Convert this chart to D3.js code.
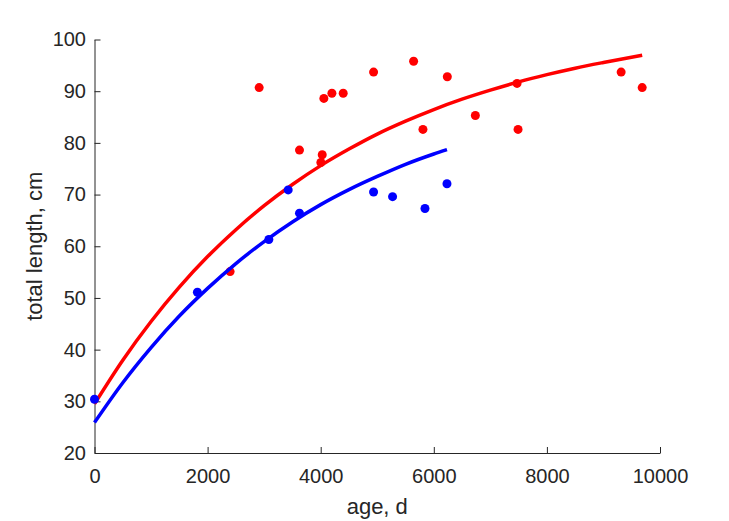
<!DOCTYPE html>
<html>
<head>
<meta charset="utf-8">
<script src="https://cdn.jsdelivr.net/npm/d3@7"></script>
<style>
  html, body { margin: 0; padding: 0; background: #fff; }
  svg { display: block; }
  text { font-family: "Liberation Sans", Arial, Helvetica, sans-serif; }
</style>
</head>
<body>
<svg id="chart" width="729" height="521"></svg>
<script>
// ---- data ----
const xTicks = [0, 2000, 4000, 6000, 8000, 10000];
const yTicks = [20, 30, 40, 50, 60, 70, 80, 90, 100];

// red group: observed ages (d) and total lengths (cm)
const redAge    = [2398, 2912, 3625, 4003, 4027, 4056, 4198, 4398, 4935, 5643, 5808, 6239, 6735, 7472, 7490, 9313, 9685];
const redLength = [55.1, 90.7, 78.6, 76.2, 77.7, 88.6, 89.6, 89.6, 93.7, 95.8, 82.6, 92.8, 85.3, 91.5, 82.6, 93.7, 90.7];

// blue group
const blueAge    = [0, 1820, 3083, 3425, 3625, 4935, 5271, 5844, 6233];
const blueLength = [30.4, 51.1, 61.3, 70.9, 66.4, 70.5, 69.6, 67.3, 72.1];

// fitted growth curves
const redCurveAge    = [0, 500, 1000, 1500, 2000, 2500, 3000, 3500, 4000, 4500, 5000, 5500, 6000, 6500, 7000, 7500, 8000, 8500, 9000, 9685];
const redCurveLength = [29.5, 37.96, 45.45, 52.1, 58.0, 63.2, 67.85, 71.95, 75.6, 78.8, 81.7, 84.2, 86.45, 88.45, 90.2, 91.8, 93.2, 94.45, 95.55, 96.95];
const blueCurveAge    = [0, 500, 1000, 1500, 2000, 2500, 3000, 3500, 4000, 4500, 5000, 5500, 6000, 6233];
const blueCurveLength = [25.9, 33.6, 40.4, 46.5, 51.85, 56.65, 60.9, 64.7, 68.05, 70.95, 73.5, 75.85, 77.85, 78.7];

const xLabel = "age, d";
const yLabel = "total length, cm";

// ---- layout ----
const padL = 94.5, padR = 660, padT = 39.5, padB = 453;
const axisColor = "#262626";

const svg = d3.select("#chart");
const x = d3.scaleLinear().domain([0, 10000]).range([padL, padR]);
const y = d3.scaleLinear().domain([20, 100]).range([padB, padT]);

// axes
const xAxis = d3.axisBottom(x).tickValues(xTicks).tickFormat(d3.format("d"))
  .tickSizeInner(-6).tickSizeOuter(0).tickPadding(16);
const yAxis = d3.axisLeft(y).tickValues(yTicks).tickFormat(d3.format("d"))
  .tickSizeInner(-6).tickSizeOuter(0).tickPadding(8.5);

const gx = svg.append("g").attr("transform", `translate(0,${padB})`).call(xAxis);
const gy = svg.append("g").attr("transform", `translate(${padL},0)`).call(yAxis);
[gx, gy].forEach(g => {
  g.select(".domain").attr("stroke", axisColor).attr("stroke-width", 1);
  g.selectAll(".tick line").attr("stroke", axisColor).attr("stroke-width", 1);
  g.selectAll(".tick text").attr("fill", axisColor)
    .style("font-size", "20px")
    .style("font-family", '"Liberation Sans", Arial, Helvetica, sans-serif');
});

// axis labels
svg.append("text")
  .attr("x", (padL + padR) / 2).attr("y", 514)
  .attr("text-anchor", "middle").attr("fill", axisColor)
  .style("font-size", "22px").text(xLabel);
svg.append("text")
  .attr("transform", `translate(42,${(padT + padB) / 2}) rotate(-90)`)
  .attr("text-anchor", "middle").attr("fill", axisColor)
  .style("font-size", "22px").text(yLabel);

const line = d3.line().x(d => x(d[0])).y(d => y(d[1])).curve(d3.curveMonotoneX);
const zip = (a, b) => a.map((v, i) => [v, b[i]]);

// red group
svg.append("g").selectAll("circle").data(zip(redAge, redLength)).join("circle")
  .attr("cx", d => x(d[0])).attr("cy", d => y(d[1])).attr("r", 4.5).attr("fill", "#ff0000");
svg.append("path").datum(zip(redCurveAge, redCurveLength))
  .attr("d", line).attr("fill", "none").attr("stroke", "#ff0000").attr("stroke-width", 3.5);

// blue group
svg.append("g").selectAll("circle").data(zip(blueAge, blueLength)).join("circle")
  .attr("cx", d => x(d[0])).attr("cy", d => y(d[1])).attr("r", 4.5).attr("fill", "#0000ff");
svg.append("path").datum(zip(blueCurveAge, blueCurveLength))
  .attr("d", line).attr("fill", "none").attr("stroke", "#0000ff").attr("stroke-width", 3.5);
</script>
</body>
</html>
